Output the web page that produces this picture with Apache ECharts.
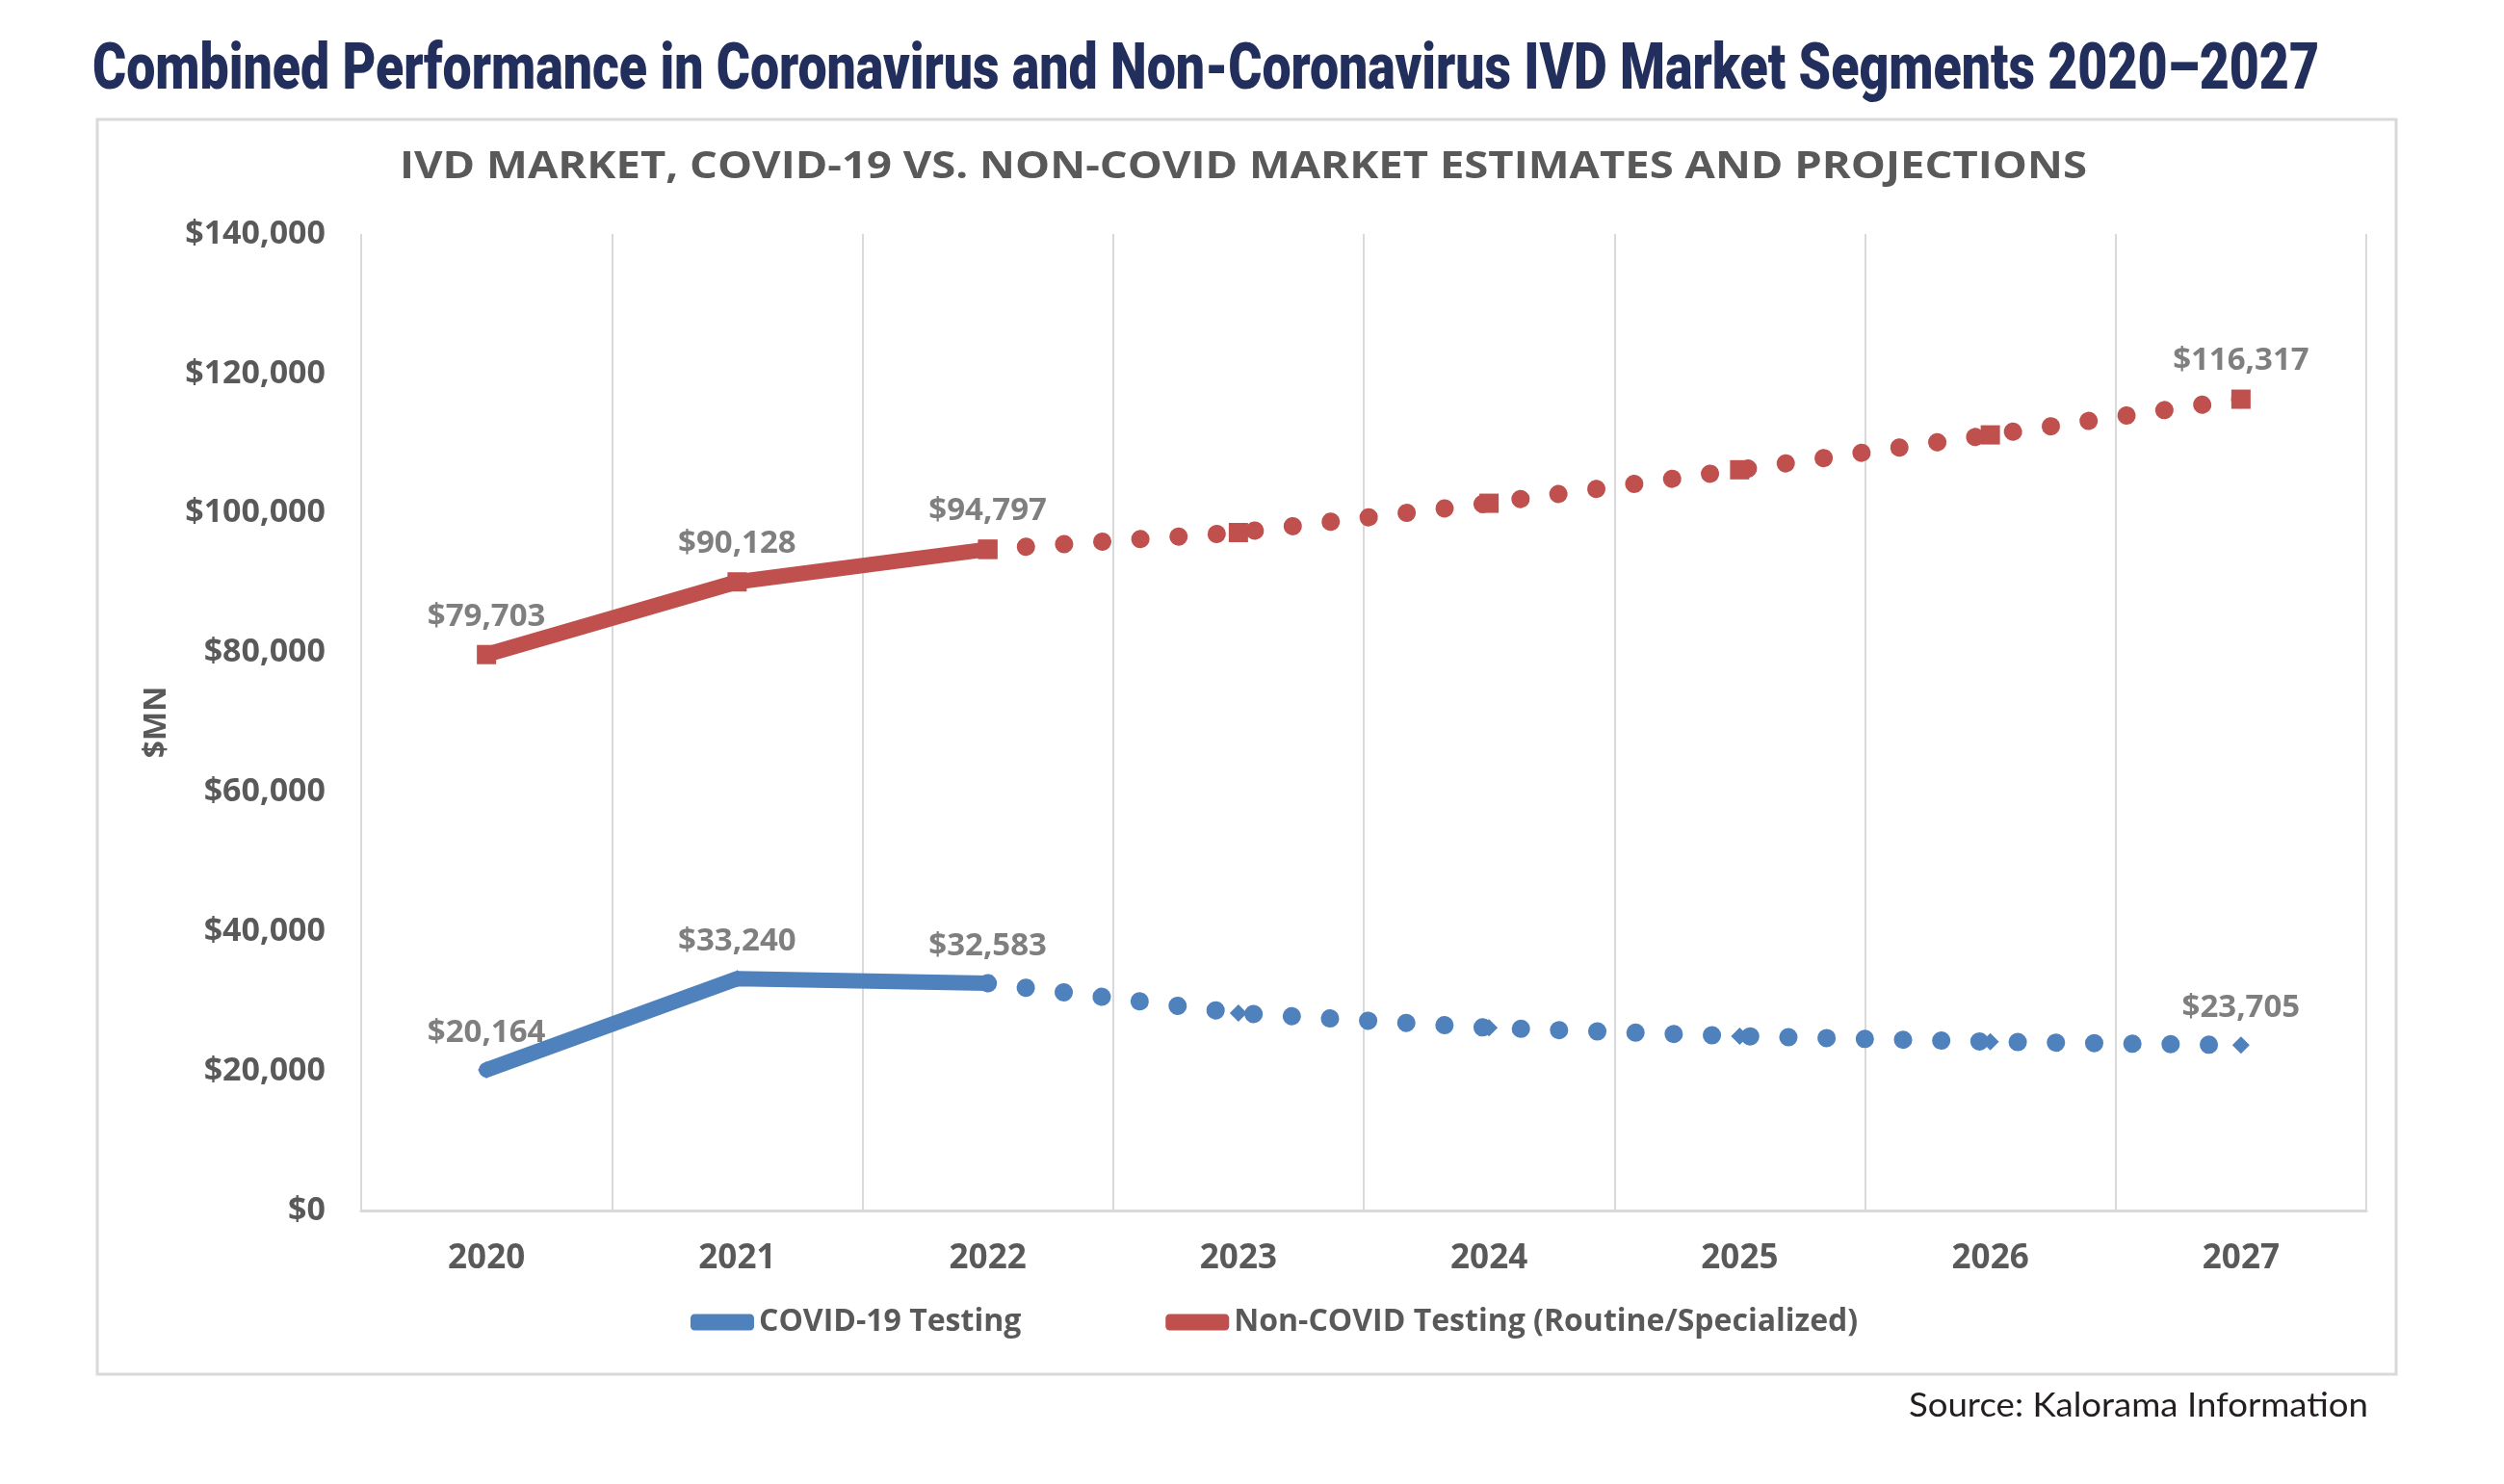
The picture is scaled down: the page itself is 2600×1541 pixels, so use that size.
<!DOCTYPE html>
<html>
<head>
<meta charset="utf-8">
<script src="https://cdn.jsdelivr.net/npm/echarts@6/dist/echarts.min.js"></script>
<style>
html,body{margin:0;padding:0;background:#fff;}
#main{width:2600px;height:1541px;}
</style>
</head>
<body>
<div id="main"></div>
<script>
// categories and values (2023-2026 estimated)
var years = ['2020', '2021', '2022', '2023', '2024', '2025', '2026', '2027'];
var covidValues = [20164, 33240, 32583, 28300, 26200, 25000, 24200, 23705];
var nonCovidValues = [79703, 90128, 94797, 97200, 101400, 106200, 111200, 116317];
var actualCount = 3;                 // 2020-2022 actual, rest projected
var labelledYears = ['2020', '2021', '2022', '2027'];
var yMin = 0, yMax = 140000, yStep = 20000;

var seriesNames = ['COVID-19 Testing', 'Non-COVID Testing (Routine/Specialized)'];
var blue = '#4f81bd', red = '#c0504d';
var titleText = 'Combined Performance in Coronavirus and Non-Coronavirus IVD Market Segments 2020\u20132027';
var subText = 'IVD MARKET, COVID-19 VS. NON-COVID MARKET ESTIMATES AND PROJECTIONS';
var sourceText = 'Source: Kalorama Information';

function money(v) {
    return '$' + Number(v).toLocaleString('en-US');
}

// scale a text so it fills the width seen in the picture
function fitScale(text, font, w) {
    var ctx = document.createElement('canvas').getContext('2d');
    ctx.font = font;
    return w / ctx.measureText(text).width;
}

function part(vals, projected) {
    return vals.map(function (v, i) {
        var inPart = projected ? i >= actualCount - 1 : i < actualCount;
        if (!inPart) return null;
        var show = labelledYears.indexOf(years[i]) >= 0 && (!projected || i >= actualCount);
        return { value: v, label: { show: show } };
    });
}

var labelStyle = {
    position: 'top',
    distance: 13,
    color: '#7f7f7f',
    fontSize: 33,
    fontWeight: 'bold',
    fontFamily: 'Open Sans',
    formatter: function (p) { return money(p.value); }
};

function makeSeries(name, vals, color, symbol, symSize) {
    return [{
        name: name,
        type: 'line',
        data: part(vals, false),
        symbol: symbol,
        symbolSize: symSize,
        itemStyle: { color: color },
        lineStyle: { color: color, width: 16, cap: 'round', join: 'round' },
        label: labelStyle,
        z: 3
    }, {
        name: name,
        type: 'line',
        data: part(vals, true),
        symbol: symbol,
        symbolSize: symSize,
        itemStyle: { color: color },
        lineStyle: { color: color, width: 19, type: [0.1, 39.6], cap: 'round' },
        label: labelStyle,
        z: 2
    }];
}

var titleFont = '900 67px Roboto';
var subFont = 'bold 39px "Open Sans"';
var srcFont = '34px Lato';

var myChart = echarts.init(document.getElementById('main'));

var option = {
    animation: false,
    backgroundColor: '#ffffff',
    graphic: [
        {
            type: 'text', x: 96, y: 75, scaleX: fitScale(titleText, titleFont, 2312),
            style: { text: titleText, font: titleFont, fill: '#222e5c', align: 'left', verticalAlign: 'middle' }
        },
        {
            type: 'rect', z: -10, silent: true,
            shape: { x: 101, y: 124, width: 2387, height: 1303 },
            style: { fill: 'none', stroke: '#d9d9d9', lineWidth: 3 }
        },
        {
            type: 'text', x: 1291, y: 174, scaleX: fitScale(subText, subFont, 1752),
            style: { text: subText, font: subFont, fill: '#595959', align: 'center', verticalAlign: 'middle' }
        },
        {
            type: 'text', x: 2459, y: 1460, scaleX: fitScale(sourceText, srcFont, 477),
            style: { text: sourceText, font: srcFont, fill: '#231f20', align: 'right', verticalAlign: 'middle' }
        }
    ],
    grid: { left: 375, right: 143, top: 243, bottom: 284 },
    legend: {
        data: seriesNames,
        left: 712,
        top: 1352,
        icon: 'roundRect',
        itemWidth: 66,
        itemHeight: 17,
        itemGap: 150,
        textStyle: { color: '#595959', fontSize: 32, fontWeight: 'bold', fontFamily: 'Open Sans' }
    },
    xAxis: {
        type: 'category',
        data: years,
        boundaryGap: true,
        axisLine: { lineStyle: { color: '#d9d9d9', width: 3 } },
        axisTick: { show: false },
        splitLine: { show: true, lineStyle: { color: '#d9d9d9', width: 2 } },
        axisLabel: { margin: 33, color: '#595959', fontSize: 35, fontWeight: 'bold', fontFamily: 'Open Sans' }
    },
    yAxis: {
        type: 'value',
        min: yMin,
        max: yMax,
        interval: yStep,
        name: '$MN',
        nameLocation: 'middle',
        nameRotate: 90,
        nameGap: 196,
        nameTextStyle: { color: '#595959', fontSize: 32, fontWeight: 'bold', fontFamily: 'Open Sans' },
        axisLine: { show: false },
        axisTick: { show: false },
        splitLine: { show: false },
        axisLabel: { margin: 37, color: '#595959', fontSize: 34, fontWeight: 'bold', fontFamily: 'Open Sans', formatter: money }
    },
    series: makeSeries(seriesNames[0], covidValues, blue, 'diamond', 18)
        .concat(makeSeries(seriesNames[1], nonCovidValues, red, 'rect', 20))
};

myChart.setOption(option);
</script>
</body>
</html>
